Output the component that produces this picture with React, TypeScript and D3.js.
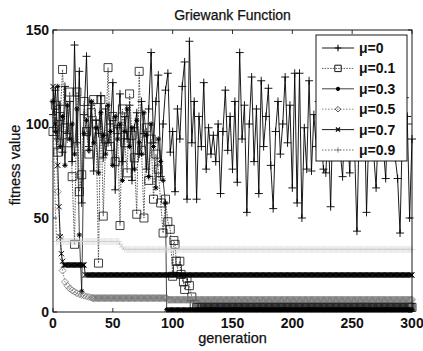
import React from 'react';
import * as d3 from 'd3';

// ---------------- data ----------------
const X_TICKS = [0, 50, 100, 150, 200, 250, 300];
const Y_TICKS = [0, 50, 100, 150];
const LEGEND_LABELS = ['μ=0', 'μ=0.1', 'μ=0.3', 'μ=0.5', 'μ=0.7', 'μ=0.9'];
const GEN_MAX = 300;
const EARLY_STEP = 2;

// μ=0 : fitness every 2 generations (0..300)
const MU0_EARLY = [
  105, 118, 92, 110, 85, 120, 95, 112, 80, 142,
  90, 128, 58, 105, 136, 88, 110, 75, 102, 95,
  115, 82, 108, 90, 100, 122, 65, 98, 116, 80,
  104, 92, 110, 70, 98, 106, 84, 112, 95, 76,
  108, 138, 90, 112, 126, 72, 100, 118, 127, 85,
  96, 64, 108, 92, 120, 133, 60, 144, 90, 112,
  60, 104, 88, 122, 76, 98, 84, 94, 80, 100,
  63, 96, 118, 86, 104, 76, 112, 69, 138, 92,
  110, 53, 100, 125, 80, 108, 63, 123, 88, 104,
  119, 78, 55, 96, 112, 84, 100, 125, 90, 110,
  66, 127, 58, 127, 50, 98, 76, 123, 75, 105,
  88, 112, 94, 76, 74, 100, 56, 108, 90, 118,
  85, 72, 104, 96, 74, 110, 88, 43, 102, 92,
  115, 53, 96, 108, 84, 66, 100, 112, 88, 71,
  106, 96, 118, 82, 71, 42, 98, 114, 104, 50,
  92,
];

// μ=0.1 : every 2 generations (0..90), then descent, then flat
const MU01_EARLY = [
  96, 110, 85, 104, 129, 98, 90, 117, 72, 36,
  117, 64, 73, 112, 96, 84, 106, 113, 100, 26,
  113, 51, 92, 130, 88, 104, 80, 97, 46, 108,
  90, 74, 116, 94, 82, 52, 128, 86, 50, 98,
  70, 92, 60, 84, 76, 58,
];
const MU01_POINTS: [number, number][] = [
  [92, 42], [94, 60], [96, 48], [98, 44], [100, 19], [101, 38], [102, 36], [103, 27],
  [104, 23], [106, 27], [107, 20], [109, 16], [110, 12], [112, 18], [114, 14],
  [116, 8], [118, 4], [120, 2.5],
];
const MU01_FLAT: [number, number, number][] = [[121, 300, 2.5]];

// μ=0.3
const MU03_EARLY = [
  112, 96, 120, 88, 104, 78, 110, 92, 100, 84,
  108, 41, 11, 95, 102, 86, 112, 90, 98, 74,
  106, 94, 84, 110, 96, 78, 104, 92, 100, 70,
  96, 108, 88, 98, 76, 102, 90, 84, 106, 94,
  72, 100, 88, 66, 92, 80, 70, 58,
];
const MU03_POINTS: [number, number][] = [[95, 1.2]];
const MU03_FLAT: [number, number, number][] = [[96, 300, 1.2]];

// μ=0.5
const MU05_POINTS: [number, number][] = [
  [0, 112], [2, 98], [4, 64], [6, 40], [8, 22], [10, 16], [12, 14], [14, 12.5],
  [16, 11.5], [18, 10.8], [20, 10], [22, 9.5], [24, 9.1], [26, 8.7], [28, 8.3],
  [30, 8], [32, 7.7],
];
const MU05_FLAT: [number, number, number][] = [[33, 95, 7.4], [96, 300, 6.5]];

// μ=0.7
const MU07_POINTS: [number, number][] = [
  [0, 120], [2, 100], [4, 78], [5, 56], [6, 40], [7, 31], [8, 27],
];
const MU07_FLAT: [number, number, number][] = [[9, 26, 25], [27, 300, 19.7]];

// μ=0.9
const MU09_POINTS: [number, number][] = [[0, 104], [1, 80], [2, 55], [56, 36], [58, 34.5]];
const MU09_FLAT: [number, number, number][] = [[3, 55, 37.5], [60, 300, 33.3]];

// ---------------- helpers ----------------
function build(early: number[], points: [number, number][], flat: [number, number, number][]) {
  const out: [number, number][] = [];
  early.forEach((v, i) => out.push([i * EARLY_STEP, v]));
  points.forEach((p) => out.push(p));
  flat.forEach(([a, b, v]) => {
    for (let g = a; g <= Math.min(b, GEN_MAX); g++) out.push([g, v]);
  });
  out.sort((a, b) => a[0] - b[0]);
  return out;
}

type Kind = 'plus' | 'square' | 'aster' | 'diamond' | 'x';
function marker(kind: Kind, x: number, y: number, r: number): string {
  switch (kind) {
    case 'plus':
      return `M${x - r},${y}H${x + r}M${x},${y - r}V${y + r}`;
    case 'square':
      return `M${x - r},${y - r}h${2 * r}v${2 * r}h${-2 * r}Z`;
    case 'diamond':
      return `M${x},${y - r}L${x + r},${y}L${x},${y + r}L${x - r},${y}Z`;
    case 'x':
      return `M${x - r},${y - r}L${x + r},${y + r}M${x - r},${y + r}L${x + r},${y - r}`;
    case 'aster': {
      const d = r * 0.7;
      return `M${x - r},${y}H${x + r}M${x},${y - r}V${y + r}M${x - d},${y - d}L${x + d},${y + d}M${x - d},${y + d}L${x + d},${y - d}`;
    }
  }
}

const SERIES = [
  { data: build(MU0_EARLY, [], []), kind: 'plus' as Kind, r: 4, line: '#000', dash: undefined, lw: 0.9, mk: '#000', mw: 0.9, lk: '#000' },
  { data: build(MU01_EARLY, MU01_POINTS, MU01_FLAT), kind: 'square' as Kind, r: 4, line: '#444', dash: '1.5,1.2', lw: 0.9, mk: '#111', mw: 0.8, lk: '#111' },
  { data: build(MU03_EARLY, MU03_POINTS, MU03_FLAT), kind: 'aster' as Kind, r: 2.6, line: '#111', dash: undefined, lw: 0.8, mk: '#000', mw: 1, lk: '#000' },
  { data: build([], MU05_POINTS, MU05_FLAT), kind: 'diamond' as Kind, r: 3.5, line: '#666', dash: '1.5,1.5', lw: 0.8, mk: '#6a6a6a', mw: 0.7, lk: '#444' },
  { data: build([], MU07_POINTS, MU07_FLAT), kind: 'x' as Kind, r: 2.6, line: '#000', dash: undefined, lw: 0.9, mk: '#000', mw: 1, lk: '#000' },
  { data: build([], MU09_POINTS, MU09_FLAT), kind: 'plus' as Kind, r: 3.5, line: '#444', dash: '1.5,1.5', lw: 0.8, mk: '#d0d0d0', mw: 0.5, lk: '#666' },
];

const FONT = '"Liberation Sans", Arial, Helvetica, sans-serif';

export default function App() {
  const W = 423, H = 351;
  const L = 53, R = 412, T = 30, B = 312;
  const x = d3.scaleLinear().domain([0, 300]).range([L, R]);
  const y = d3.scaleLinear().domain([0, 150]).range([B, T]);
  const line = d3.line<[number, number]>().x((d) => x(d[0])).y((d) => y(d[1]));

  const legX = 316, legY = 35, legW = 91, legH = 126;
  const rowY = (i: number) => legY + 13 + i * 20.4;

  return (
    <svg width={W} height={H} style={{ position: 'fixed', left: 0, top: 0, background: '#fff' }} fontFamily={FONT}>
      <rect x={0} y={0} width={W} height={H} fill="#fff" />
      {SERIES.map((s, i) => (
        <g key={i}>
          <path d={line(s.data) || ''} fill="none" stroke={s.line} strokeWidth={s.lw} strokeDasharray={s.dash} />
          <path
            d={s.data.map((d) => marker(s.kind, x(d[0]), y(d[1]), s.r)).join('')}
            fill="none"
            stroke={s.mk}
            strokeWidth={s.mw}
          />
        </g>
      ))}
      {/* frame */}
      <rect x={L} y={T} width={R - L} height={B - T} fill="none" stroke="#000" strokeWidth={0.9} />
      {X_TICKS.map((t) => (
        <g key={'x' + t}>
          <line x1={x(t)} x2={x(t)} y1={B} y2={B - 4} stroke="#000" strokeWidth={0.8} />
          <line x1={x(t)} x2={x(t)} y1={T} y2={T + 4} stroke="#000" strokeWidth={0.8} />
          <text x={x(t)} y={B + 16} textAnchor="middle" fontSize={14} fontWeight="bold" fill="#111">{t}</text>
        </g>
      ))}
      {Y_TICKS.map((t) => (
        <g key={'y' + t}>
          <line x1={L} x2={L + 4} y1={y(t)} y2={y(t)} stroke="#000" strokeWidth={0.8} />
          <line x1={R} x2={R - 4} y1={y(t)} y2={y(t)} stroke="#000" strokeWidth={0.8} />
          <text x={L - 4} y={y(t) + 5} textAnchor="end" fontSize={14} fontWeight="bold" fill="#111">{t}</text>
        </g>
      ))}
      <text x={(L + R) / 2} y={20} textAnchor="middle" fontSize={14} fill="#111" stroke="#111" strokeWidth={0.25}>Griewank Function</text>
      <text x={(L + R) / 2} y={343} textAnchor="middle" fontSize={14.5} fill="#111" stroke="#111" strokeWidth={0.25}>generation</text>
      <text transform={`translate(20,165) rotate(-90)`} textAnchor="middle" fontSize={14.5} fill="#111" stroke="#111" strokeWidth={0.25}>fitness value</text>
      {/* legend */}
      <rect x={legX} y={legY} width={legW} height={legH} fill="#fff" stroke="#000" strokeWidth={0.9} />
      {SERIES.map((s, i) => (
        <g key={'l' + i}>
          <line x1={legX + 6} x2={legX + 38} y1={rowY(i)} y2={rowY(i)} stroke={s.line} strokeWidth={s.lw} strokeDasharray={s.dash} />
          <path d={marker(s.kind, legX + 22, rowY(i), s.r * 0.8)} fill="none" stroke={s.lk} strokeWidth={s.mw + 0.2} />
          <text x={legX + 43} y={rowY(i) + 5} fontSize={14} fontWeight="bold" fill="#111">{LEGEND_LABELS[i]}</text>
        </g>
      ))}
    </svg>
  );
}
